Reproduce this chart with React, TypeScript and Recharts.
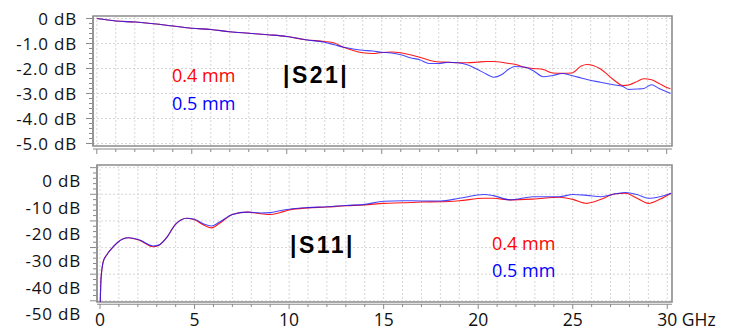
import React from "react";
import { LineChart, Line, XAxis, YAxis, CartesianGrid, ReferenceArea, ReferenceLine } from "recharts";

const FONT = '"Open Sans", sans-serif';
const AXIS = "#8a8a8a";
const GRID = "#d6d6d6";
const RED = "#ff1a1a";
const BLUE = "#1a1aff";

// |S21| in dB, 0.4 mm vs 0.5 mm
const s21Freq = [0, 1, 2, 3, 4, 5, 6, 7, 8, 9, 10, 11, 12, 12.5, 13, 13.5, 14, 14.5, 15, 15.5, 16, 16.5, 17, 17.5, 18, 18.5, 19, 19.5, 20, 20.5, 20.9, 21.3, 21.7, 22, 22.5, 23, 23.5, 24, 24.5, 25, 25.5, 25.8, 26.5, 27.2, 27.7, 28, 28.5, 28.8, 29.2, 29.6, 30, 30.2];
const s21_04mm = [0, -0.1, -0.14, -0.21, -0.3, -0.39, -0.44, -0.53, -0.59, -0.65, -0.72, -0.85, -0.92, -0.98, -1.15, -1.28, -1.37, -1.4, -1.36, -1.34, -1.37, -1.45, -1.55, -1.67, -1.74, -1.75, -1.77, -1.77, -1.75, -1.72, -1.72, -1.75, -1.8, -1.83, -1.95, -2.0, -2.04, -2.18, -2.19, -2.18, -1.9, -1.84, -2.01, -2.45, -2.68, -2.66, -2.5, -2.41, -2.45, -2.6, -2.76, -2.81];
const s21_05mm = [0, -0.1, -0.14, -0.21, -0.3, -0.39, -0.44, -0.53, -0.59, -0.65, -0.72, -0.85, -0.95, -1.05, -1.15, -1.22, -1.27, -1.3, -1.35, -1.38, -1.45, -1.57, -1.65, -1.8, -1.8, -1.75, -1.77, -1.85, -2.02, -2.22, -2.35, -2.25, -2.02, -1.92, -1.94, -2.1, -2.33, -2.28, -2.2, -2.28, -2.38, -2.44, -2.55, -2.65, -2.72, -2.84, -2.82, -2.8, -2.65, -2.8, -2.93, -2.99];

// |S11| in dB
const s11Freq = [0, 0.05, 0.18, 0.35, 0.7, 1.2, 1.5, 2.1, 2.8, 3.1, 3.5, 4.0, 4.6, 5.0, 5.5, 5.9, 6.3, 7.0, 7.8, 8.5, 9.0, 9.5, 10, 11, 12, 13, 14, 15, 16, 17, 18, 19, 20.3, 20.8, 21.7, 22.9, 24.3, 25.0, 25.75, 26.5, 27.2, 27.8, 28.4, 29.0, 29.6, 30.2];
const s11_04mm = [-50, -37, -30, -27.8, -24.7, -21.8, -21.3, -22.3, -24.7, -24.2, -21.5, -16.2, -14.0, -14.6, -16.6, -17.6, -16.0, -12.6, -11.7, -12.3, -12.6, -11.9, -10.9, -10.1, -9.8, -9.3, -9.0, -8.4, -8.2, -7.9, -7.8, -7.4, -6.5, -6.5, -7.1, -6.8, -6.1, -6.9, -8.4, -6.9, -4.9, -4.6, -6.5, -8.4, -6.9, -4.6];
const s11_05mm = [-50, -37, -30, -27.8, -24.7, -21.8, -21.3, -22.2, -24.4, -24.1, -21.5, -16.2, -14.0, -14.4, -16.2, -16.9, -15.5, -12.6, -11.7, -12.0, -11.9, -11.2, -10.6, -10.0, -9.7, -9.2, -8.8, -7.6, -7.4, -7.5, -7.5, -6.5, -5.1, -5.5, -7.1, -5.9, -5.9, -5.1, -5.4, -5.9, -4.9, -4.3, -5.1, -6.5, -5.9, -4.6];

// axes
const freqTicks = [0, 1, 2, 3, 4, 5, 6, 7, 8, 9, 10, 11, 12, 13, 14, 15, 16, 17, 18, 19, 20, 21, 22, 23, 24, 25, 26, 27, 28, 29, 30];
const s21RulerTicks = [0, -0.2, -0.4, -0.6, -0.8, -1, -1.2, -1.4, -1.6, -1.8, -2, -2.2, -2.4, -2.6, -2.8, -3, -3.2, -3.4, -3.6, -3.8, -4, -4.2, -4.4, -4.6, -4.8, -5];
const s21GridValues = [0, -1, -2, -3, -4, -5];
const s11RulerTicks = [5, 3, 1, -1, -3, -5, -7, -9, -11, -13, -15, -17, -19, -21, -23, -25, -27, -29, -31, -33, -35, -37, -39, -41, -43, -45];
const s11GridValues = [5, -5, -15, -25, -35, -45];
const s11LabelTicks = [0, -10, -20, -30, -40, -50];

const s21Domain = { x: [-0.2, 30.28], y: [-5.1, 0.1], ruler: -5.22 };
const s11Domain = { x: [-0.16, 30.25], y: [-45.45, 6.0], ruler: -46.3 };

const s21Data = s21Freq.map((f, i) => ({ f, a: s21_04mm[i], b: s21_05mm[i] }));
const s11Data = s11Freq.map((f, i) => ({ f, a: s11_04mm[i], b: s11_05mm[i] }));

function FreqTick(props: any) {
  const { x, y, payload, labels, gap } = props;
  const v = payload.value;
  const major = v % 5 === 0;
  return (
    <g>
      <line x1={x} x2={x} y1={y + gap} y2={y + gap + (major ? 5 : 3)} stroke={AXIS} />
      {labels && major && (
        <text
          x={v === 30 ? x - 10 : x}
          y={y + 24}
          textAnchor={v === 30 ? "start" : "middle"}
          fontFamily={FONT}
          fontSize={17.5}
          fill="#111"
        >
          {v === 30 ? "30 GHz" : v}
        </text>
      )}
    </g>
  );
}

function S21Tick(props: any) {
  const { x, y, payload } = props;
  const v = payload.value;
  const major = Math.abs(v - Math.round(v)) < 1e-6;
  return (
    <g>
      <line x1={x - 1 - (major ? 6 : 3)} x2={x - 1} y1={y} y2={y} stroke={AXIS} />
      {major && (
        <text x={x - 16} y={y} dy="0.36em" textAnchor="end" fontFamily={FONT} fontSize={17} letterSpacing={0.8} fill="#111">
          {v === 0 ? "0 dB" : `${v.toFixed(1)} dB`}
        </text>
      )}
    </g>
  );
}

function S11Tick(props: any) {
  const { x, y, payload } = props;
  const v = payload.value;
  if (s11LabelTicks.includes(v)) {
    return (
      <text x={x - 16} y={y} dy="0.36em" textAnchor="end" fontFamily={FONT} fontSize={17} letterSpacing={0.8} fill="#111">
        {`${v} dB`}
      </text>
    );
  }
  const major = s11GridValues.includes(v);
  return <line x1={x - 1 - (major ? 6 : 3)} x2={x - 1} y1={y} y2={y} stroke={AXIS} />;
}

function Panel({ data, domain, gridValues, yTicks, yTick, yWidth, xHeight, margin, height, labels, gap }: any) {
  return (
    <LineChart width={731} height={height} data={data} margin={margin}>
      <CartesianGrid
        stroke={GRID}
        strokeDasharray="2 2"
        horizontalValues={gridValues}
        verticalValues={freqTicks}
      />
      <XAxis
        type="number"
        dataKey="f"
        domain={domain.x}
        ticks={freqTicks}
        interval={0}
        allowDataOverflow
        axisLine={false}
        tickLine={false}
        tickSize={0}
        tickMargin={0}
        height={xHeight}
        tick={(p: any) => <FreqTick {...p} labels={labels} gap={gap} />}
      />
      <YAxis
        type="number"
        domain={domain.y}
        ticks={yTicks}
        interval={0}
        allowDataOverflow
        axisLine={{ stroke: AXIS }}
        tickLine={false}
        tickSize={0}
        tickMargin={0}
        width={yWidth}
        tick={yTick}
      />
      <ReferenceArea
        x1={domain.x[0]}
        x2={domain.x[1]}
        y1={domain.y[0]}
        y2={domain.y[1]}
        fill="none"
        fillOpacity={0}
        stroke="#8c8c8c"
        strokeWidth={1.6}
        ifOverflow="visible"
      />
      <ReferenceLine y={domain.ruler} stroke={AXIS} ifOverflow="visible" />
      <Line type="monotone" dataKey="a" stroke={RED} strokeWidth={1.1} dot={false} isAnimationActive={false} />
      <Line type="monotone" dataKey="b" stroke={BLUE} strokeWidth={1.1} strokeOpacity={0.8} dot={false} isAnimationActive={false} />
    </LineChart>
  );
}

export default function App() {
  return (
    <div style={{ position: "absolute", left: 0, top: 0, width: 731, height: 331, background: "#fff", overflow: "hidden" }}>
      <div style={{ position: "absolute", left: 0, top: 0 }}>
        <Panel
          data={s21Data}
          domain={s21Domain}
          gridValues={s21GridValues}
          yTicks={s21RulerTicks}
          yTick={(p: any) => <S21Tick {...p} />}
          yWidth={93}
          xHeight={24}
          height={170}
          margin={{ top: 16, right: 59, bottom: 0, left: 0 }}
          labels={false}
          gap={3}
        />
      </div>
      <div style={{ position: "absolute", left: 0, top: 160 }}>
        <Panel
          data={s11Data}
          domain={s11Domain}
          gridValues={s11GridValues}
          yTicks={[...s11RulerTicks, ...s11LabelTicks]}
          yTick={(p: any) => <S11Tick {...p} />}
          yWidth={97}
          xHeight={29}
          height={171}
          margin={{ top: 5, right: 59, bottom: 0, left: 0 }}
          labels
          gap={2}
        />
      </div>
      <svg width={731} height={331} style={{ position: "absolute", left: 0, top: 0, pointerEvents: "none" }}>
        <text x={283} y={83.3} fontFamily='"Liberation Sans", Arial, sans-serif' fontWeight="bold" fontSize={23} letterSpacing={2.5} fill="#000">|S21|</text>
        <text x={172} y={81.7} fontFamily={FONT} fontSize={18} fill="#ff0000">0.4 mm</text>
        <text x={172} y={110} fontFamily={FONT} fontSize={18} fill="#0000ff">0.5 mm</text>
        <text x={290} y={253.3} fontFamily='"Liberation Sans", Arial, sans-serif' fontWeight="bold" fontSize={23} letterSpacing={2.5} fill="#000">|S11|</text>
        <text x={492} y={250} fontFamily={FONT} fontSize={18} fill="#ff0000">0.4 mm</text>
        <text x={492} y={276.7} fontFamily={FONT} fontSize={18} fill="#0000ff">0.5 mm</text>
      </svg>
    </div>
  );
}
